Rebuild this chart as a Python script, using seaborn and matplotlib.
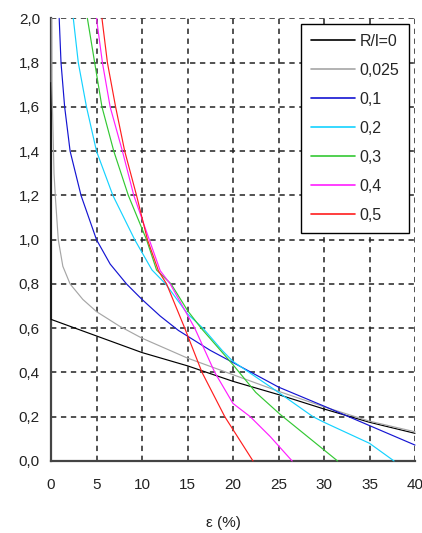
import matplotlib
matplotlib.use("Agg")
import matplotlib.pyplot as plt
import seaborn as sns
import pandas as pd
from matplotlib.ticker import FuncFormatter

# curves, one (x, y) pair of lists per R/l value
x_r0 = [0, 0, 5, 10, 15, 20, 25, 30, 35, 40]
y_r0 = [1.71, 0.64, 0.565, 0.49, 0.43, 0.36, 0.30, 0.235, 0.175, 0.125]

x_r025 = [0.08, 0.1, 0.33, 0.5, 0.8, 1.3, 2.1, 3.5, 5, 7.5, 10, 15, 20, 25, 30, 35, 40]
y_r025 = [2.0, 1.7, 1.3, 1.18, 1.0, 0.88, 0.8, 0.73, 0.675, 0.61, 0.555, 0.465, 0.39, 0.315, 0.245, 0.18, 0.132]

x_r1 = [0.9, 1.1, 1.5, 2.1, 3.3, 5.0, 6.5, 8.3, 10, 12, 14, 17.5, 20, 25, 30, 35, 40]
y_r1 = [2.0, 1.8, 1.6, 1.4, 1.2, 1.0, 0.89, 0.8, 0.73, 0.655, 0.59, 0.50, 0.445, 0.334, 0.248, 0.16, 0.072]

x_r2 = [2.45, 3.0, 3.9, 5.0, 6.8, 9.2, 11.1, 12.6, 15, 16.7, 18.8, 20, 25, 28.8, 30, 35, 37.7]
y_r2 = [2.0, 1.8, 1.6, 1.4, 1.2, 1.0, 0.863, 0.8, 0.665, 0.6, 0.5, 0.45, 0.31, 0.2, 0.175, 0.08, 0.0]

x_r3 = [4.0, 4.8, 5.6, 6.9, 8.5, 10.5, 11.6, 13.2, 15, 16.5, 20, 22.5, 25.2, 30, 31.5]
y_r3 = [2.0, 1.8, 1.6, 1.4, 1.2, 1.0, 0.863, 0.8, 0.68, 0.6, 0.435, 0.31, 0.21, 0.05, 0.0]

x_r4 = [5.0, 5.65, 6.5, 7.85, 9.1, 10.8, 12.0, 13.1, 15.8, 18, 20, 21.9, 24.1, 26.5]
y_r4 = [2.0, 1.8, 1.6, 1.4, 1.2, 1.0, 0.86, 0.8, 0.6, 0.4, 0.26, 0.2, 0.11, 0.0]

x_r5 = [5.6, 6.2, 7.1, 8.1, 9.4, 10.6, 11.8, 12.7, 14.7, 16.6, 19.1, 22.2]
y_r5 = [2.0, 1.8, 1.6, 1.4, 1.2, 1.0, 0.86, 0.8, 0.6, 0.4, 0.2, 0.0]

labels = ["R/l=0", "0,025", "0,1", "0,2", "0,3", "0,4", "0,5"]
colors = ["#000000", "#a6a6a6", "#1414d2", "#14d2ff", "#33c833", "#ff1eff", "#ff1e1e"]

xs = [x_r0, x_r025, x_r1, x_r2, x_r3, x_r4, x_r5]
ys = [y_r0, y_r025, y_r1, y_r2, y_r3, y_r4, y_r5]

rows = []
for lab, xx, yy in zip(labels, xs, ys):
    for a, b in zip(xx, yy):
        rows.append({"eps": a, "val": b, "R/l": lab})
df = pd.DataFrame(rows)

sns.set_style("white")
plt.rcParams["font.family"] = ["Liberation Sans", "DejaVu Sans"]
plt.rcParams["font.size"] = 11

fig = plt.figure(figsize=(4.22, 5.33), dpi=100)
ax = fig.add_axes([51 / 422, 72 / 533, 364 / 422, 442.6 / 533])

sns.lineplot(data=df, x="eps", y="val", hue="R/l", palette=colors,
             hue_order=labels, sort=False, estimator=None, linewidth=0.85, ax=ax)
for line in ax.get_lines():
    line.set_clip_on(False)
    line.set_zorder(3)

ax.set_xlim(0, 40)
ax.set_ylim(0, 2.0)
ax.set_xticks(range(0, 41, 5))
ax.set_yticks([i * 0.2 for i in range(11)])
ax.yaxis.set_major_formatter(FuncFormatter(lambda v, p: f"{v:.1f}".replace(".", ",")))
ax.grid(True, color="#222222", linestyle=(0, (3.5, 3)), linewidth=1.1)
ax.set_axisbelow(True)
for s in ["top", "right"]:
    ax.spines[s].set_visible(False)
for s in ["left", "bottom"]:
    ax.spines[s].set_color("#444444")
    ax.spines[s].set_linewidth(1.6)
    ax.spines[s].set_zorder(2.5)
ax.tick_params(axis="y", direction="in", length=3, pad=8, labelsize=11,
               colors="#444444", labelcolor="#222222")
ax.tick_params(axis="x", direction="in", length=0, pad=12, labelsize=11,
               labelcolor="#222222")

ax.set_ylabel("")
ax.set_xlabel("ε (%)", fontsize=11, color="#222222")
ax.xaxis.set_label_coords(0.475, -0.125)

leg = ax.legend(loc="upper right", bbox_to_anchor=(0.9835, 0.987), borderaxespad=0,
                frameon=True, fancybox=False, edgecolor="#000000", framealpha=1,
                handlelength=2.75, handletextpad=0.3, labelspacing=0.88,
                borderpad=0.6, fontsize=11.5)
leg.get_frame().set_linewidth(1.0)
for line in leg.get_lines():
    line.set_linewidth(1.2)

fig.savefig("out.png", dpi=100)
